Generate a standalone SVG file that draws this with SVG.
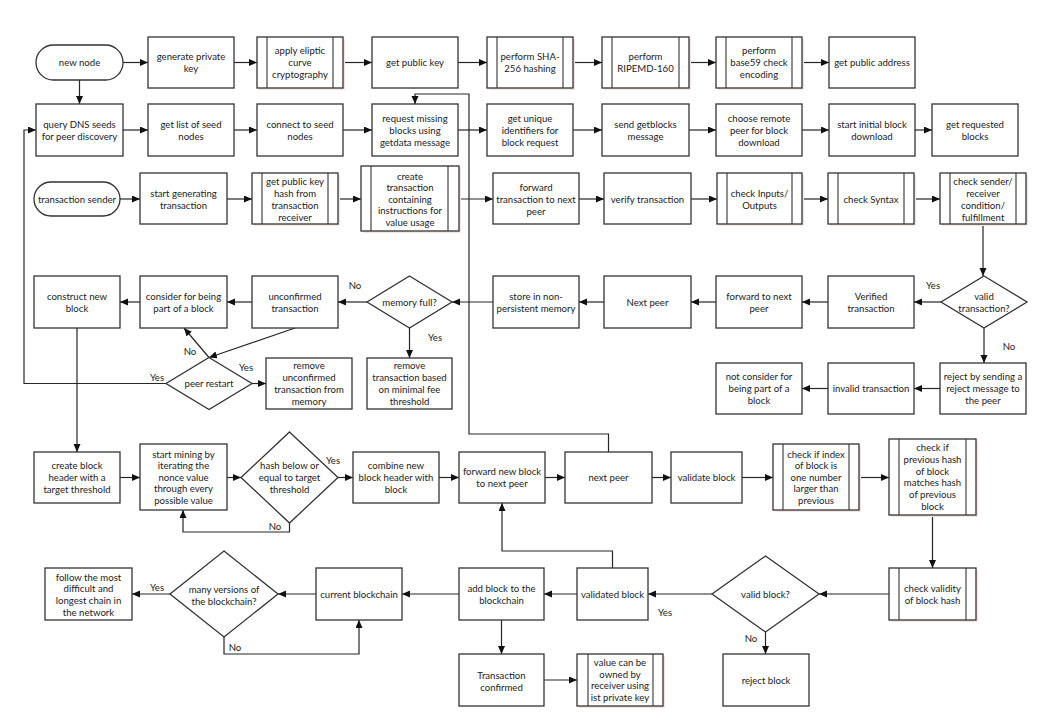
<svg xmlns="http://www.w3.org/2000/svg" width="1051" height="715" viewBox="0 0 1051 715">
<style>
.b{fill:#fff;stroke:#333;stroke-width:1.3}
.sh{fill:#f5e4e1}
.bar{stroke:#333;stroke-width:1.1;fill:none}
.t{font-family:Lato,"Open Sans",sans-serif;font-size:9.6px;fill:#222;text-anchor:middle}
.l{font-family:Lato,"Open Sans",sans-serif;font-size:9.6px;fill:#222;text-anchor:middle}
.c{fill:none;stroke:#262626;stroke-width:1.2}
</style>
<defs>
<marker id="a" markerUnits="userSpaceOnUse" markerWidth="9" markerHeight="8" refX="8" refY="3.5" orient="auto"><path d="M0,0 L8,3.5 L0,7 z" fill="#111"/></marker>
</defs>
<rect width="1051" height="715" fill="#fff"/>
<g id="connectors">
<path class="c" marker-end="url(#a)" d="M123,62.5 H148"/>
<path class="c" marker-end="url(#a)" d="M234,62.5 H257"/>
<path class="c" marker-end="url(#a)" d="M343,62.5 H372"/>
<path class="c" marker-end="url(#a)" d="M458,62.5 H487"/>
<path class="c" marker-end="url(#a)" d="M573,62.5 H602"/>
<path class="c" marker-end="url(#a)" d="M689,62.5 H716"/>
<path class="c" marker-end="url(#a)" d="M802,62.5 H829"/>
<path class="c" marker-end="url(#a)" d="M79.5,80 V104"/>
<path class="c" marker-end="url(#a)" d="M123,130 H148"/>
<path class="c" marker-end="url(#a)" d="M234,130 H257"/>
<path class="c" marker-end="url(#a)" d="M343,130 H372"/>
<path class="c" marker-end="url(#a)" d="M458,130 H487"/>
<path class="c" marker-end="url(#a)" d="M573,130 H602"/>
<path class="c" marker-end="url(#a)" d="M689,130 H716"/>
<path class="c" marker-end="url(#a)" d="M802,130 H829"/>
<path class="c" marker-end="url(#a)" d="M915,130 H932"/>
<path class="c" marker-end="url(#a)" d="M120,199 H140"/>
<path class="c" marker-end="url(#a)" d="M227,199 H252"/>
<path class="c" marker-end="url(#a)" d="M338,199 H361"/>
<path class="c" marker-end="url(#a)" d="M459,199 H493"/>
<path class="c" marker-end="url(#a)" d="M579,199 H604"/>
<path class="c" marker-end="url(#a)" d="M691,199 H717"/>
<path class="c" marker-end="url(#a)" d="M802,199 H828"/>
<path class="c" marker-end="url(#a)" d="M914,199 H940"/>
<path class="c" marker-end="url(#a)" d="M983,224 V276"/>
<path class="c" marker-end="url(#a)" d="M941,302 H914"/>
<path class="c" marker-end="url(#a)" d="M828,302 H802"/>
<path class="c" marker-end="url(#a)" d="M716,302 H691"/>
<path class="c" marker-end="url(#a)" d="M604,302 H579"/>
<path class="c" marker-end="url(#a)" d="M493,302 H452"/>
<path class="c" marker-end="url(#a)" d="M367,302 H338"/>
<path class="c" marker-end="url(#a)" d="M252,302 H227"/>
<path class="c" marker-end="url(#a)" d="M140,302 H120"/>
<path class="c" marker-end="url(#a)" d="M409.5,328 V358"/>
<path class="c" marker-end="url(#a)" d="M984,328 V363"/>
<path class="c" marker-end="url(#a)" d="M940,388.5 H914"/>
<path class="c" marker-end="url(#a)" d="M828,388.5 H802"/>
<path class="c" marker-end="url(#a)" d="M295,328 L209,357.5"/>
<path class="c" marker-end="url(#a)" d="M209,357.5 L184,328"/>
<path class="c" marker-end="url(#a)" d="M252,383.5 H266"/>
<path class="c" marker-end="url(#a)" d="M166,383.5 H24 V130 H36"/>
<path class="c" marker-end="url(#a)" d="M77,328 V452"/>
<path class="c" marker-end="url(#a)" d="M120,477.5 H140"/>
<path class="c" marker-end="url(#a)" d="M227,477.5 H241"/>
<path class="c" marker-end="url(#a)" d="M338,477.5 H353"/>
<path class="c" marker-end="url(#a)" d="M439,477.5 H459"/>
<path class="c" marker-end="url(#a)" d="M545,477.5 H565"/>
<path class="c" marker-end="url(#a)" d="M652,477.5 H671"/>
<path class="c" marker-end="url(#a)" d="M742,477.5 H773"/>
<path class="c" marker-end="url(#a)" d="M859,477.5 H889"/>
<path class="c" marker-end="url(#a)" d="M289.5,523 V532 H183 V510"/>
<path class="c" marker-end="url(#a)" d="M608.5,452 V434 H469 V94 H415 V104"/>
<path class="c" marker-end="url(#a)" d="M932.5,515 V568"/>
<path class="c" marker-end="url(#a)" d="M889,594 H819"/>
<path class="c" marker-end="url(#a)" d="M712,594 H648"/>
<path class="c" marker-end="url(#a)" d="M765.5,632 V654"/>
<path class="c" marker-end="url(#a)" d="M577,594 H544"/>
<path class="c" marker-end="url(#a)" d="M459,594 H402"/>
<path class="c" marker-end="url(#a)" d="M316,594 H278"/>
<path class="c" marker-end="url(#a)" d="M170,594 H132"/>
<path class="c" marker-end="url(#a)" d="M224,637 V654 H359 V620"/>
<path class="c" marker-end="url(#a)" d="M612.5,568 V551 H502 V503"/>
<path class="c" marker-end="url(#a)" d="M501.5,620 V654"/>
<path class="c" marker-end="url(#a)" d="M544,680 H577"/>
<text class="l" x="933" y="288.5">Yes</text>
<text class="l" x="355" y="288.5">No</text>
<text class="l" x="435" y="340.5">Yes</text>
<text class="l" x="1009" y="349.5">No</text>
<text class="l" x="190" y="354.5">No</text>
<text class="l" x="246" y="370.5">Yes</text>
<text class="l" x="157" y="380.5">Yes</text>
<text class="l" x="333" y="463.5">Yes</text>
<text class="l" x="275" y="529.5">No</text>
<text class="l" x="665" y="615.5">Yes</text>
<text class="l" x="751" y="641.5">No</text>
<text class="l" x="157" y="590.5">Yes</text>
<text class="l" x="235" y="650.5">No</text>
</g>
<g id="n_new"><rect class="b" x="36" y="45" width="87" height="35" rx="17.5"/><text class="t" x="79.5" y="66">new node</text></g>
<g id="n_genpriv"><rect class="b" x="148" y="37" width="86" height="51"/><text class="t" x="191" y="60">generate private</text><text class="t" x="191" y="72">key</text></g>
<g id="n_ecc"><rect class="sh" x="259" y="39" width="86" height="51"/><rect class="b" x="257" y="37" width="86" height="51"/><path class="bar" d="M267,37 V88 M333,37 V88"/><text class="t" x="300" y="54">apply eliptic</text><text class="t" x="300" y="66">curve</text><text class="t" x="300" y="78">cryptography</text></g>
<g id="n_pub"><rect class="b" x="372" y="37" width="86" height="51"/><text class="t" x="415" y="66">get public key</text></g>
<g id="n_sha"><rect class="sh" x="489" y="39" width="86" height="51"/><rect class="b" x="487" y="37" width="86" height="51"/><path class="bar" d="M497,37 V88 M563,37 V88"/><text class="t" x="530" y="60">perform SHA-</text><text class="t" x="530" y="72">256 hashing</text></g>
<g id="n_ripe"><rect class="sh" x="604" y="39" width="87" height="51"/><rect class="b" x="602" y="37" width="87" height="51"/><path class="bar" d="M612,37 V88 M679,37 V88"/><text class="t" x="645.5" y="60">perform</text><text class="t" x="645.5" y="72">RIPEMD-160</text></g>
<g id="n_b59"><rect class="sh" x="718" y="39" width="86" height="51"/><rect class="b" x="716" y="37" width="86" height="51"/><path class="bar" d="M726,37 V88 M792,37 V88"/><text class="t" x="759" y="54">perform</text><text class="t" x="759" y="66">base59 check</text><text class="t" x="759" y="78">encoding</text></g>
<g id="n_addr"><rect class="b" x="829" y="37" width="86" height="51"/><text class="t" x="872" y="66">get public address</text></g>
<g id="n_dns"><rect class="b" x="36" y="104" width="87" height="52"/><text class="t" x="79.5" y="127.5">query DNS seeds</text><text class="t" x="79.5" y="139.5">for peer discovery</text></g>
<g id="n_list"><rect class="b" x="148" y="104" width="86" height="52"/><text class="t" x="191" y="127.5">get list of seed</text><text class="t" x="191" y="139.5">nodes</text></g>
<g id="n_conn"><rect class="b" x="257" y="104" width="86" height="52"/><text class="t" x="300" y="127.5">connect to seed</text><text class="t" x="300" y="139.5">nodes</text></g>
<g id="n_req"><rect class="b" x="372" y="104" width="86" height="52"/><text class="t" x="415" y="121.5">request missing</text><text class="t" x="415" y="133.5">blocks using</text><text class="t" x="415" y="145.5">getdata message</text></g>
<g id="n_uniq"><rect class="b" x="487" y="104" width="86" height="52"/><text class="t" x="530" y="121.5">get unique</text><text class="t" x="530" y="133.5">identifiers for</text><text class="t" x="530" y="145.5">block request</text></g>
<g id="n_getb"><rect class="b" x="602" y="104" width="87" height="52"/><text class="t" x="645.5" y="127.5">send getblocks</text><text class="t" x="645.5" y="139.5">message</text></g>
<g id="n_remote"><rect class="b" x="716" y="104" width="86" height="52"/><text class="t" x="759" y="121.5">choose remote</text><text class="t" x="759" y="133.5">peer for block</text><text class="t" x="759" y="145.5">download</text></g>
<g id="n_init"><rect class="b" x="829" y="104" width="86" height="52"/><text class="t" x="872" y="127.5">start initial block</text><text class="t" x="872" y="139.5">download</text></g>
<g id="n_reqd"><rect class="b" x="932" y="104" width="86" height="52"/><text class="t" x="975" y="127.5">get requested</text><text class="t" x="975" y="139.5">blocks</text></g>
<g id="n_sender"><rect class="b" x="34" y="182" width="86" height="34" rx="17"/><text class="t" x="77" y="202.5">transaction sender</text></g>
<g id="n_startgen"><rect class="b" x="140" y="173" width="87" height="51"/><text class="t" x="183.5" y="196.5">start generating</text><text class="t" x="183.5" y="208.5">transaction</text></g>
<g id="n_pkh"><rect class="sh" x="254" y="175" width="86" height="51"/><rect class="b" x="252" y="173" width="86" height="51"/><path class="bar" d="M262,173 V224 M328,173 V224"/><text class="t" x="295" y="184.5">get public key</text><text class="t" x="295" y="196.5">hash from</text><text class="t" x="295" y="208.5">transaction</text><text class="t" x="295" y="220.5">receiver</text></g>
<g id="n_create"><rect class="sh" x="363" y="168" width="98" height="65"/><rect class="b" x="361" y="166" width="98" height="65"/><path class="bar" d="M371,166 V231 M448,166 V231"/><text class="t" x="410" y="179.5">create</text><text class="t" x="410" y="191">transaction</text><text class="t" x="410" y="202.5">containing</text><text class="t" x="410" y="214">instructions for</text><text class="t" x="410" y="225.5">value usage</text></g>
<g id="n_fwdtx"><rect class="b" x="493" y="173" width="86" height="51"/><text class="t" x="536" y="190.5">forward</text><text class="t" x="536" y="202.5">transaction to next</text><text class="t" x="536" y="214.5">peer</text></g>
<g id="n_verify"><rect class="b" x="604" y="173" width="87" height="51"/><text class="t" x="647.5" y="202.5">verify transaction</text></g>
<g id="n_io"><rect class="sh" x="719" y="175" width="85" height="51"/><rect class="b" x="717" y="173" width="85" height="51"/><path class="bar" d="M727,173 V224 M792,173 V224"/><text class="t" x="759.5" y="196.5">check Inputs/</text><text class="t" x="759.5" y="208.5">Outputs</text></g>
<g id="n_syntax"><rect class="sh" x="830" y="175" width="86" height="51"/><rect class="b" x="828" y="173" width="86" height="51"/><path class="bar" d="M838,173 V224 M904,173 V224"/><text class="t" x="871" y="202.5">check Syntax</text></g>
<g id="n_cond"><rect class="sh" x="942" y="175" width="86" height="51"/><rect class="b" x="940" y="173" width="86" height="51"/><path class="bar" d="M950,173 V224 M1016,173 V224"/><text class="t" x="983" y="184.5">check sender/</text><text class="t" x="983" y="196.5">receiver</text><text class="t" x="983" y="208.5">condition/</text><text class="t" x="983" y="220.5">fulfillment</text></g>
<g id="n_construct"><rect class="b" x="34" y="276" width="86" height="52"/><text class="t" x="77" y="299.5">construct new</text><text class="t" x="77" y="311.5">block</text></g>
<g id="n_consider"><rect class="b" x="140" y="276" width="87" height="52"/><text class="t" x="183.5" y="299.5">consider for being</text><text class="t" x="183.5" y="311.5">part of a block</text></g>
<g id="n_unconf"><rect class="b" x="252" y="276" width="86" height="52"/><text class="t" x="295" y="299.5">unconfirmed</text><text class="t" x="295" y="311.5">transaction</text></g>
<g id="n_memfull"><path class="b" d="M409.5,276 L452,302 L409.5,328 L367,302 Z"/><text class="t" x="409.5" y="305.5">memory full?</text></g>
<g id="n_store"><rect class="b" x="493" y="276" width="86" height="52"/><text class="t" x="536" y="299.5">store in non-</text><text class="t" x="536" y="311.5">persistent memory</text></g>
<g id="n_nextpeer1"><rect class="b" x="604" y="276" width="87" height="52"/><text class="t" x="647.5" y="305.5">Next peer</text></g>
<g id="n_fwdpeer"><rect class="b" x="716" y="276" width="86" height="52"/><text class="t" x="759" y="299.5">forward to next</text><text class="t" x="759" y="311.5">peer</text></g>
<g id="n_verified"><rect class="b" x="828" y="276" width="86" height="52"/><text class="t" x="871" y="299.5">Verified</text><text class="t" x="871" y="311.5">transaction</text></g>
<g id="n_validtx"><path class="b" d="M984,276 L1027,302 L984,328 L941,302 Z"/><text class="t" x="984" y="299.5">valid</text><text class="t" x="984" y="311.5">transaction?</text></g>
<g id="n_peerrestart"><path class="b" d="M209,357.5 L252,383.5 L209,409.5 L166,383.5 Z"/><text class="t" x="209" y="387">peer restart</text></g>
<g id="n_rmunconf"><rect class="b" x="266" y="358" width="86" height="51"/><text class="t" x="309" y="369">remove</text><text class="t" x="309" y="381">unconfirmed</text><text class="t" x="309" y="393">transaction from</text><text class="t" x="309" y="405">memory</text></g>
<g id="n_rmfee"><rect class="b" x="367" y="358" width="85" height="51"/><text class="t" x="409.5" y="369">remove</text><text class="t" x="409.5" y="381">transaction based</text><text class="t" x="409.5" y="393">on minimal fee</text><text class="t" x="409.5" y="405">threshold</text></g>
<g id="n_reject"><rect class="b" x="940" y="363" width="86" height="51"/><text class="t" x="983" y="380">reject by sending a</text><text class="t" x="983" y="392">reject message to</text><text class="t" x="983" y="404">the peer</text></g>
<g id="n_invalid"><rect class="b" x="828" y="363" width="86" height="51"/><text class="t" x="871" y="392">invalid transaction</text></g>
<g id="n_notcons"><rect class="b" x="716" y="363" width="86" height="51"/><text class="t" x="759" y="380">not consider for</text><text class="t" x="759" y="392">being part of a</text><text class="t" x="759" y="404">block</text></g>
<g id="n_header"><rect class="b" x="34" y="452" width="86" height="51"/><text class="t" x="77" y="469">create block</text><text class="t" x="77" y="481">header with a</text><text class="t" x="77" y="493">target threshold</text></g>
<g id="n_mining"><rect class="b" x="140" y="444" width="87" height="66"/><text class="t" x="183.5" y="457.5">start mining by</text><text class="t" x="183.5" y="469">iterating the</text><text class="t" x="183.5" y="480.5">nonce value</text><text class="t" x="183.5" y="492">through every</text><text class="t" x="183.5" y="503.5">possible value</text></g>
<g id="n_hash"><path class="b" d="M289.5,432 L338,477.5 L289.5,523 L241,477.5 Z"/><text class="t" x="289.5" y="469">hash below or</text><text class="t" x="289.5" y="481">equal to target</text><text class="t" x="289.5" y="493">threshold</text></g>
<g id="n_combine"><rect class="b" x="353" y="452" width="86" height="51"/><text class="t" x="396" y="469">combine new</text><text class="t" x="396" y="481">block header with</text><text class="t" x="396" y="493">block</text></g>
<g id="n_fwdblock"><rect class="b" x="459" y="452" width="86" height="51"/><text class="t" x="502" y="475">forward new block</text><text class="t" x="502" y="487">to next peer</text></g>
<g id="n_nextpeer2"><rect class="b" x="565" y="452" width="87" height="51"/><text class="t" x="608.5" y="481">next peer</text></g>
<g id="n_validate"><rect class="b" x="671" y="452" width="71" height="51"/><text class="t" x="706.5" y="481">validate block</text></g>
<g id="n_index"><rect class="sh" x="775" y="446" width="86" height="66"/><rect class="b" x="773" y="444" width="86" height="66"/><path class="bar" d="M783,444 V510 M849,444 V510"/><text class="t" x="816" y="457.5">check if index</text><text class="t" x="816" y="469">of block is</text><text class="t" x="816" y="480.5">one number</text><text class="t" x="816" y="492">larger than</text><text class="t" x="816" y="503.5">previous</text></g>
<g id="n_prevhash"><rect class="sh" x="891" y="441" width="87" height="76"/><rect class="b" x="889" y="439" width="87" height="76"/><path class="bar" d="M899,439 V515 M966,439 V515"/><text class="t" x="932.5" y="451">check if</text><text class="t" x="932.5" y="462.8">previous hash</text><text class="t" x="932.5" y="474.6">of block</text><text class="t" x="932.5" y="486.4">matches hash</text><text class="t" x="932.5" y="498.2">of previous</text><text class="t" x="932.5" y="510">block</text></g>
<g id="n_validity"><rect class="sh" x="891" y="570" width="87" height="52"/><rect class="b" x="889" y="568" width="87" height="52"/><path class="bar" d="M899,568 V620 M966,568 V620"/><text class="t" x="932.5" y="592">check validity</text><text class="t" x="932.5" y="604">of block hash</text></g>
<g id="n_validblock"><path class="b" d="M765.5,556 L819,594 L765.5,632 L712,594 Z"/><text class="t" x="765.5" y="597.5">valid block?</text></g>
<g id="n_validated"><rect class="b" x="577" y="568" width="71" height="52"/><text class="t" x="612.5" y="597.5">validated block</text></g>
<g id="n_add"><rect class="b" x="459" y="568" width="85" height="52"/><text class="t" x="501.5" y="591.5">add block to the</text><text class="t" x="501.5" y="603.5">blockchain</text></g>
<g id="n_current"><rect class="b" x="316" y="568" width="86" height="52"/><text class="t" x="359" y="597.5">current blockchain</text></g>
<g id="n_many"><path class="b" d="M224,551 L278,594 L224,637 L170,594 Z"/><text class="t" x="224" y="592.5">many versions of</text><text class="t" x="224" y="604.5">the blockchain?</text></g>
<g id="n_follow"><rect class="b" x="45" y="568" width="87" height="52"/><text class="t" x="88.5" y="580.5">follow the most</text><text class="t" x="88.5" y="592.3">difficult and</text><text class="t" x="88.5" y="604.1">longest chain in</text><text class="t" x="88.5" y="615.9">the network</text></g>
<g id="n_confirmed"><rect class="b" x="459" y="654" width="85" height="52"/><text class="t" x="501.5" y="678.5">Transaction</text><text class="t" x="501.5" y="690.5">confirmed</text></g>
<g id="n_owned"><rect class="sh" x="579" y="656" width="86" height="52"/><rect class="b" x="577" y="654" width="86" height="52"/><path class="bar" d="M588,654 V706 M653,654 V706"/><text class="t" x="620" y="666">value can be</text><text class="t" x="620" y="677.7">owned by</text><text class="t" x="620" y="689.4">receiver using</text><text class="t" x="620" y="701.1">ist private key</text></g>
<g id="n_rejectblock"><rect class="b" x="723" y="654" width="86" height="52"/><text class="t" x="766" y="683.5">reject block</text></g>
</svg>
